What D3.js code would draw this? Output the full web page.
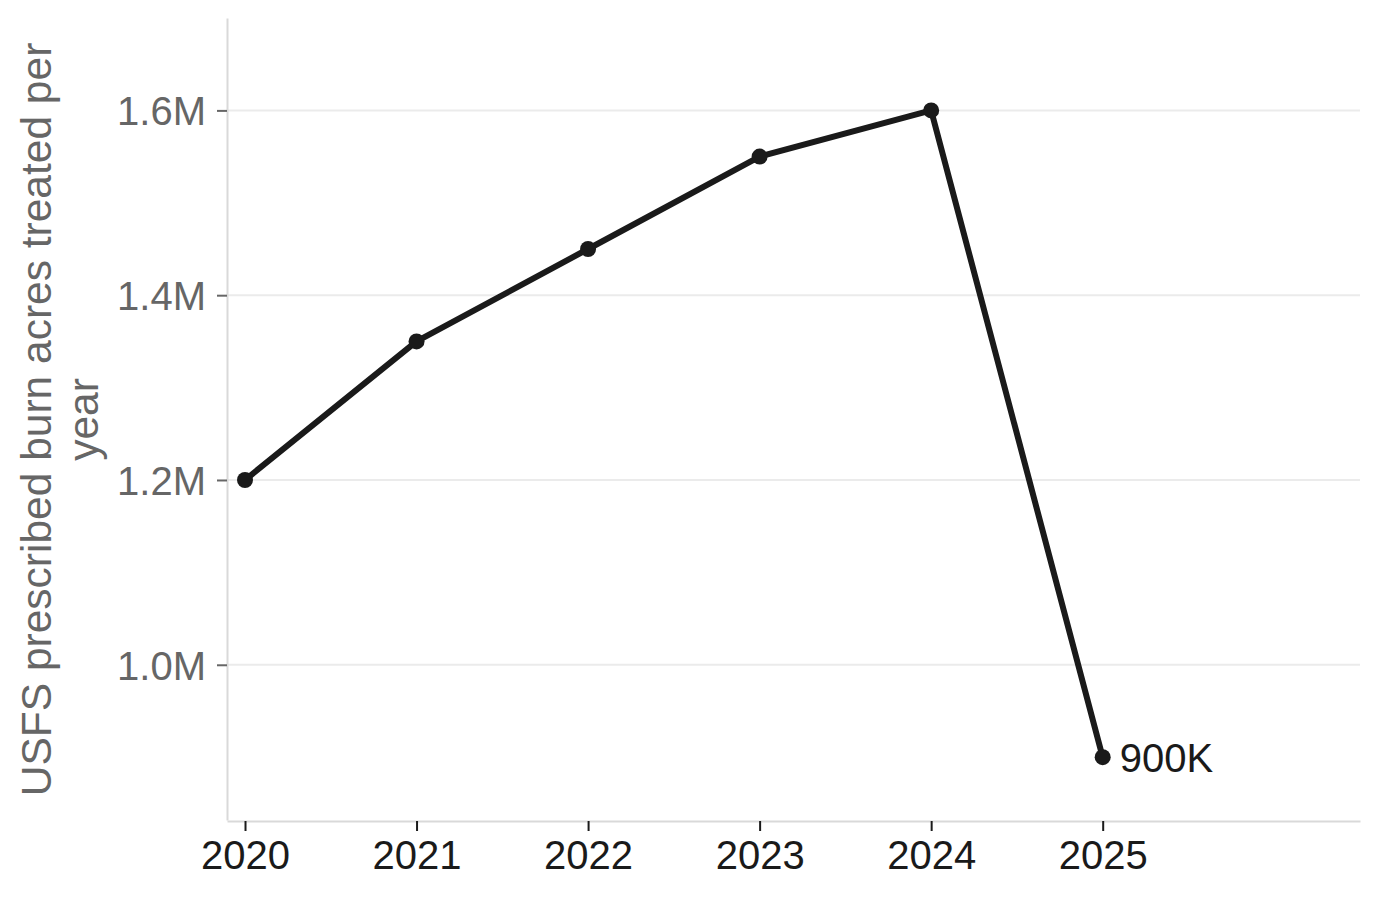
<!DOCTYPE html>
<html>
<head>
<meta charset="utf-8">
<script src="https://cdn.jsdelivr.net/npm/d3@7"></script>
<style>
  body { margin: 0; background: #fff; }
  svg { display: block; font-family: "Liberation Sans", Arial, Helvetica, sans-serif; }
</style>
</head>
<body>
<div id="chart"></div>
<script>
var years = [2020, 2021, 2022, 2023, 2024, 2025],
    acres = [1200000, 1350000, 1450000, 1550000, 1600000, 900000];

var yTicks = [1000000, 1200000, 1400000, 1600000],
    yTickLabels = ["1.0M", "1.2M", "1.4M", "1.6M"];

var endLabel = "900K",
    yTitle = ["USFS prescribed burn acres treated per", "year"];

var width = 1380,
    height = 899,
    margin = {top: 18, right: 20, bottom: 78, left: 227};

var svg = d3.select("#chart").append("svg")
    .attr("width", width)
    .attr("height", height);

var x = d3.scaleLinear()
    .domain([2019.895, 2026.5])
    .range([margin.left, width - margin.right]);

var y = d3.scaleLinear()
    .domain([832000, 1700000])
    .range([height - margin.bottom - 1, margin.top]);

// gridlines
svg.append("g")
    .selectAll("line")
    .data(yTicks)
    .join("line")
    .attr("x1", margin.left)
    .attr("x2", width - margin.right)
    .attr("y1", d => y(d))
    .attr("y2", d => y(d))
    .attr("stroke", "#ebebeb")
    .attr("stroke-width", 2);

// y axis
var yAxis = svg.append("g")
    .attr("transform", `translate(${margin.left},0)`)
    .call(d3.axisLeft(y).tickValues(yTicks)
        .tickFormat((d, i) => yTickLabels[i])
        .tickSizeInner(10).tickSizeOuter(0).tickPadding(11));
yAxis.select(".domain").attr("stroke", "#d9d9d9").attr("stroke-width", 2);
yAxis.selectAll(".tick line").attr("stroke", "#666").attr("stroke-width", 2);
yAxis.selectAll(".tick text")
    .attr("fill", "#666")
    .style("font-size", "40px")
    .attr("dy", "0.36em")
    .attr("font-family", null);

// x axis
var xAxis = svg.append("g")
    .attr("transform", `translate(0,${height - margin.bottom})`)
    .call(d3.axisBottom(x).tickValues(years)
        .tickFormat(d3.format("d"))
        .tickSizeInner(10).tickSizeOuter(0).tickPadding(10));
xAxis.select(".domain").attr("stroke", "#d9d9d9").attr("stroke-width", 2);
xAxis.selectAll(".tick line").attr("stroke", "#1a1a1a").attr("stroke-width", 2);
xAxis.selectAll(".tick text")
    .attr("fill", "#1a1a1a")
    .style("font-size", "40px")
    .attr("font-family", null);

// y title
var yt = svg.append("text")
    .attr("transform", `translate(36,${(margin.top + height - margin.bottom) / 2}) rotate(-90)`)
    .attr("text-anchor", "middle")
    .attr("fill", "#666")
    .style("font-size", "42.5px");
yt.selectAll("tspan")
    .data(yTitle)
    .join("tspan")
    .attr("x", 0)
    .attr("dy", (d, i) => i == 0 ? "0.36em" : "1.1em")
    .text(d => d);

// line
var data = years.map((d, i) => ({year: d, value: acres[i]}));

svg.append("path")
    .datum(data)
    .attr("fill", "none")
    .attr("stroke", "#1a1a1a")
    .attr("stroke-width", 6)
    .attr("stroke-linejoin", "round")
    .attr("d", d3.line().x(d => x(d.year)).y(d => y(d.value)));

svg.append("g")
    .selectAll("circle")
    .data(data)
    .join("circle")
    .attr("cx", d => x(d.year))
    .attr("cy", d => y(d.value))
    .attr("r", 8)
    .attr("fill", "#1a1a1a");

var last = data[data.length - 1];
svg.append("text")
    .attr("x", x(last.year) + 17)
    .attr("y", y(last.value))
    .attr("dy", "0.36em")
    .attr("fill", "#1a1a1a")
    .style("font-size", "40px")
    .text(endLabel);
</script>
</body>
</html>
